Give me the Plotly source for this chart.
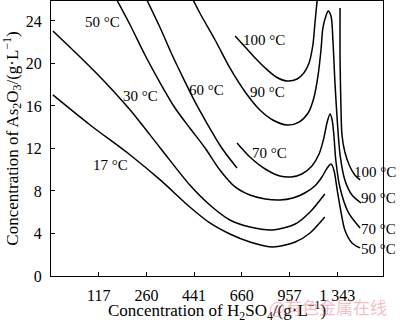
import plotly.graph_objects as go

# Horizontal positions are in tick units: the H2SO4 concentration ticks sit at 1..6.
h2so4_ticks = [1, 2, 3, 4, 5, 6]
h2so4_labels = ["117", "260", "441", "660", "957", "1 343"]
as2o3_ticks = [0, 4, 8, 12, 16, 20, 24]

# Solubility isotherms of As2O3 (g/L)
t17_x = [0.04, 0.82, 1.66, 2.29, 2.91, 3.33, 3.75, 4.17, 4.65, 5.12, 5.43, 5.74]
t17_y = [17.04, 14.21, 11.39, 9.04, 6.49, 4.99, 3.95, 3.20, 2.73, 3.20, 4.05, 5.55]

t30_x = [0.04, 0.61, 1.09, 1.66, 2.29, 2.91, 3.33, 3.75, 4.17, 4.65, 5.12, 5.43, 5.74]
t30_y = [23.06, 20.61, 18.45, 15.62, 12.05, 8.56, 6.68, 5.27, 4.61, 4.33, 4.89, 6.02, 7.72]

t50_x = [1.38, 1.66, 1.97, 2.29, 2.60, 2.91, 3.23, 3.54, 3.86, 4.17, 4.49, 4.80, 5.07,
         5.32, 5.53, 5.68, 5.79, 5.87, 5.93, 6.00, 6.08, 6.16, 6.31, 6.48]
t50_y = [25.98, 23.62, 20.80, 18.16, 15.81, 13.93, 12.05, 9.98, 8.38, 7.62, 7.25, 7.15, 7.34,
         7.81, 8.47, 9.32, 10.16, 10.54, 9.98, 8.09, 6.02, 4.33, 3.11, 2.64]

t60_x = [2.01, 2.29, 2.54, 2.77, 3.02, 3.29, 3.58, 3.90]
t60_y = [25.98, 23.34, 20.80, 18.64, 16.38, 14.21, 12.05, 10.16]

t70_x = [3.90, 4.17, 4.49, 4.80, 5.03, 5.26, 5.47, 5.62, 5.72, 5.79, 5.85, 5.89, 5.93,
         5.97, 6.06, 6.23, 6.48]
t70_y = [12.52, 11.20, 10.07, 9.41, 9.32, 9.60, 10.35, 11.48, 12.99, 14.49, 15.25, 14.78, 13.27,
         10.92, 8.28, 6.02, 4.52]

t90_x = [2.98, 3.12, 3.44, 3.75, 4.07, 4.38, 4.65, 4.95, 5.20, 5.39, 5.51, 5.60, 5.66, 5.70,
         5.77, 5.81, 5.87, 5.91, 5.95, 6.00, 6.06, 6.16, 6.31, 6.50]
t90_y = [25.98, 24.75, 22.21, 19.58, 17.32, 15.62, 14.68, 14.21, 14.49, 15.34, 16.75, 18.92, 21.27, 23.34,
         24.56, 24.94, 24.47, 22.21, 18.45, 14.68, 11.39, 9.04, 7.62, 6.87]

t100a_x = [3.86, 4.07, 4.28, 4.49, 4.72, 4.95, 5.16, 5.30, 5.41, 5.49, 5.53, 5.58]
t100a_y = [22.59, 21.55, 20.52, 19.58, 18.73, 18.35, 18.54, 19.11, 20.05, 21.74, 23.62, 25.98]
t100b_x = [6.06, 6.06, 6.08, 6.10, 6.16, 6.27, 6.37, 6.48]
t100b_y = [25.22, 20.33, 15.62, 13.27, 11.67, 10.26, 9.51, 9.04]

curves = [
    (t17_x, t17_y), (t30_x, t30_y), (t50_x, t50_y), (t60_x, t60_y),
    (t70_x, t70_y), (t90_x, t90_y), (t100a_x, t100a_y), (t100b_x, t100b_y),
]

SERIF = "Liberation Serif, Times New Roman, DejaVu Serif, serif"

fig = go.Figure()
for cx, cy in curves:
    fig.add_trace(go.Scatter(
        x=cx, y=cy, mode="lines",
        line=dict(color="black", width=1.5, shape="spline", smoothing=0.8),
        showlegend=False, hoverinfo="skip",
    ))

# Isotherm labels inside the plot: (text, x, y) in data units
inner_labels = [
    ("50 °C", 1.07, 23.9),
    ("30 °C", 1.87, 16.9),
    ("17 °C", 1.24, 10.45),
    ("60 °C", 3.25, 17.5),
    ("90 °C", 4.53, 17.3),
    ("100 °C", 4.47, 22.2),
    ("70 °C", 4.59, 11.6),
]
for text, lx, ly in inner_labels:
    fig.add_annotation(x=lx, y=ly, xref="x", yref="y", text=text, showarrow=False,
                       xanchor="center", yanchor="middle",
                       font=dict(family=SERIF, size=15, color="black"))

# Labels at the ends of the right-hand branches, running over the frame (paper units)
edge_labels = [
    ("100 °C", 0.378),
    ("90 °C", 0.284),
    ("70 °C", 0.171),
    ("50 °C", 0.098),
]
for text, ly in edge_labels:
    fig.add_annotation(x=1.045, y=ly, xref="paper", yref="paper", text=text, showarrow=False,
                       xanchor="right", yanchor="middle",
                       font=dict(family=SERIF, size=15, color="black"))

fig.add_annotation(x=0.5, y=-0.127, xref="paper", yref="paper",
                   text="Concentration of H<sub>2</sub>SO<sub>4</sub>/(g·L<sup>−1</sup>)",
                   showarrow=False, xanchor="center", yanchor="middle",
                   font=dict(family=SERIF, size=17, color="black"))
fig.add_annotation(x=-0.117, y=0.5, xref="paper", yref="paper", textangle=-90,
                   text="Concentration of As<sub>2</sub>O<sub>3</sub>/(g·L<sup>−1</sup>)",
                   showarrow=False, xanchor="center", yanchor="middle",
                   font=dict(family=SERIF, size=17, color="black"))
fig.add_annotation(x=0.835, y=-0.11, xref="paper", yref="paper",
                   text="@有色金属在线", showarrow=False,
                   xanchor="center", yanchor="middle",
                   font=dict(family="Noto Sans CJK SC", size=17, color="rgba(225,110,120,0.45)"))

axis_common = dict(
    showline=True, linecolor="black", linewidth=1.3, mirror=True,
    ticks="inside", ticklen=4, tickwidth=1.2, tickcolor="black",
    showgrid=False, zeroline=False,
    tickfont=dict(family=SERIF, size=16, color="black"),
    ticklabelstandoff=5,
)
fig.update_xaxes(range=[0, 6.96], tickvals=h2so4_ticks, ticktext=h2so4_labels, **axis_common)
fig.update_yaxes(range=[0, 25.88], tickvals=as2o3_ticks, **axis_common)

fig.update_layout(
    width=400, height=323,
    margin=dict(l=51, r=17, t=1, b=47),
    paper_bgcolor="white", plot_bgcolor="white",
)

fig.write_html("out.html")
